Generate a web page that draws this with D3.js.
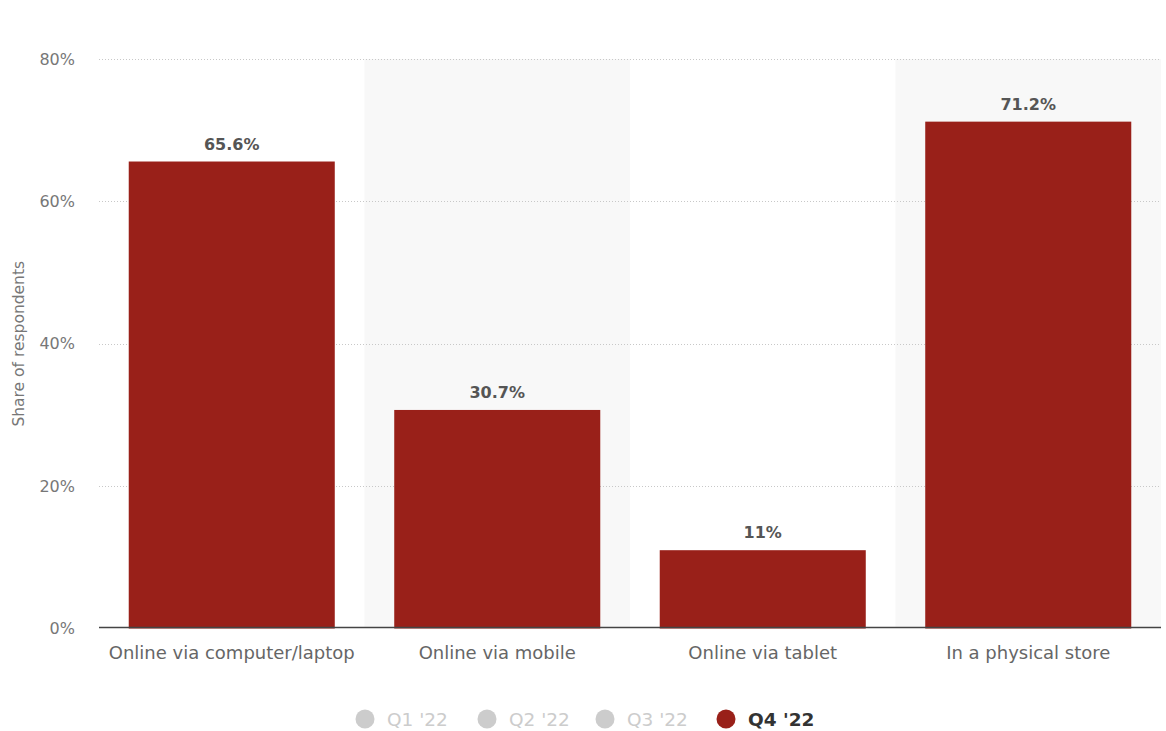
<!DOCTYPE html>
<html>
<head>
<meta charset="utf-8">
<script src="https://cdn.jsdelivr.net/npm/d3@7"></script>
<style>
  body { margin: 0; background: #fff; }
  svg { display: block; font-family: "DejaVu Sans", "Open Sans", sans-serif; }
</style>
</head>
<body>
<svg id="chart" width="1166" height="731"></svg>
<script>
// Purchase channel shares, Q4 2022
const categories = ["Online via computer/laptop", "Online via mobile", "Online via tablet", "In a physical store"];
const values = [65.6, 30.7, 11, 71.2];
const valueLabels = ["65.6%", "30.7%", "11%", "71.2%"];
const yTicks = [0, 20, 40, 60, 80];
const legendItems = ["Q1 '22", "Q2 '22", "Q3 '22", "Q4 '22"];
const activeLegend = "Q4 '22";

const svg = d3.select("#chart");
const W = 1166;
const plotLeft = 99, plotRight = 1161, plotTop = 59, plotBottom = 628.5;

const x = d3.scaleBand()
  .domain(categories)
  .range([plotLeft, plotRight])
  .paddingInner(0.224)
  .paddingOuter(0.112);

const y = d3.scaleLinear()
  .domain([0, 80])
  .range([plotBottom, plotTop]);

const barColor = "#992019";
const baseY = 627.5;

// alternating column shading
svg.append("g")
  .selectAll("rect")
  .data(categories.filter((d, i) => i % 2 === 1))
  .join("rect")
  .attr("x", d => x(d) - x.step() * x.paddingInner() / 2)
  .attr("width", x.step())
  .attr("y", y(80))
  .attr("height", baseY - y(80))
  .attr("fill", "#f8f8f8");

// gridlines
svg.append("g")
  .selectAll("line")
  .data(yTicks.filter(t => t > 0))
  .join("line")
  .attr("x1", plotLeft)
  .attr("x2", plotRight)
  .attr("y1", d => Math.round(y(d)) + 0.5)
  .attr("y2", d => Math.round(y(d)) + 0.5)
  .attr("stroke", "#c8c8c8")
  .attr("stroke-width", 1)
  .attr("stroke-dasharray", "1,2");

// y axis labels
const yAxis = d3.axisLeft(y).tickValues(yTicks).tickFormat(d => d + "%").tickSize(0).tickPadding(24);
const yg = svg.append("g").attr("transform", `translate(${plotLeft},0)`).call(yAxis);
yg.select(".domain").remove();
yg.selectAll("text")
  .attr("fill", "#777")
  .style("font-family", "DejaVu Sans")
  .style("font-size", "16px");

// y axis title
svg.append("text")
  .attr("transform", `translate(24,${(y(0) + y(80)) / 2}) rotate(-90)`)
  .attr("text-anchor", "middle")
  .attr("fill", "#777")
  .style("font-size", "15.5px")
  .text("Share of respondents");

// bars
svg.append("g")
  .selectAll("rect")
  .data(values)
  .join("rect")
  .attr("x", (d, i) => x(categories[i]))
  .attr("width", x.bandwidth())
  .attr("y", d => y(d))
  .attr("height", d => y(0) - y(d))
  .attr("fill", barColor);

// value labels
svg.append("g")
  .selectAll("text")
  .data(values)
  .join("text")
  .attr("x", (d, i) => x(categories[i]) + x.bandwidth() / 2)
  .attr("y", d => y(d) - 12)
  .attr("text-anchor", "middle")
  .attr("fill", "#555")
  .style("font-size", "16px")
  .style("font-weight", "bold")
  .text((d, i) => valueLabels[i]);

// baseline
svg.append("line")
  .attr("x1", plotLeft)
  .attr("x2", plotRight)
  .attr("y1", baseY)
  .attr("y2", baseY)
  .attr("stroke", "#444")
  .attr("stroke-width", 1.5);

// x axis labels
const xAxis = d3.axisBottom(x).tickSize(0).tickPadding(19);
const xg = svg.append("g").attr("transform", `translate(0,${baseY})`).call(xAxis);
xg.select(".domain").remove();
xg.selectAll("text")
  .attr("fill", "#666")
  .style("font-family", "DejaVu Sans")
  .style("font-size", "18px");

// legend
const legendX = [365, 487, 605, 726];
const lg = svg.append("g");
legendItems.forEach((name, i) => {
  const active = name === activeLegend;
  lg.append("circle")
    .attr("cx", legendX[i])
    .attr("cy", 719)
    .attr("r", 9.5)
    .attr("fill", active ? barColor : "#cccccc");
  lg.append("text")
    .attr("x", legendX[i] + 22)
    .attr("y", 726)
    .attr("fill", active ? "#333" : "#cccccc")
    .style("font-size", "18.5px")
    .style("font-weight", active ? "bold" : "normal")
    .text(name);
});
</script>
</body>
</html>
